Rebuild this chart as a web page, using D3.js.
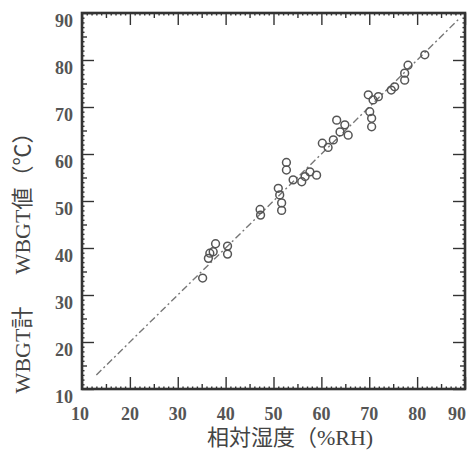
<!DOCTYPE html>
<html>
<head>
<meta charset="utf-8">
<script src="https://cdn.jsdelivr.net/npm/d3@7"></script>
<style>
  body { margin: 0; background: #fff; }
  svg { display: block; }
</style>
</head>
<body>
<svg width="475" height="461"></svg>
<script>
// relative humidity (x) / WBGT reading (y)
const xVals = [35.2, 37.9, 40.4, 40.4, 36.7, 37.4, 36.4, 47.2, 47.3,
    52.7, 52.7, 51.0, 51.3, 51.7, 51.7, 54.1, 55.9, 57.6, 59.0, 56.6,
    60.2, 61.4, 62.5, 63.2, 64.9, 63.9, 65.6, 69.8, 71.9, 70.8, 70.1, 70.5, 70.5,
    75.3, 74.6, 77.4, 78.1, 77.4, 81.6];
const yVals = [33.6, 40.9, 40.4, 38.7, 38.9, 39.2, 37.8, 48.2, 47.0,
    58.2, 56.6, 52.7, 51.3, 49.6, 48.0, 54.5, 54.1, 56.2, 55.5, 55.2,
    62.3, 61.4, 63.0, 67.2, 66.2, 64.7, 64.0, 72.6, 72.2, 71.5, 69.0, 67.6, 65.8,
    74.3, 73.6, 75.7, 78.9, 77.2, 81.1];
const tickVals = [10, 20, 30, 40, 50, 60, 70, 80, 90];
const minorVals = [15, 25, 35, 45, 55, 65, 75, 85];
const xTitle = "相対湿度（%RH)";
const yTitleA = "WBGT計";
const yTitleB = "WBGT値（℃）";

const svg = d3.select("svg");
const plotL = 82, plotR = 465, plotT = 13, plotB = 389;

const xScale = d3.scaleLinear().domain([10, 90]).range([plotL, plotR]);
const yScale = d3.scaleLinear().domain([10, 90]).range([plotB, plotT]);

const tiny = d3.range(10, 91, 1).filter(v => v % 5 != 0);
const axisColor = "#333";

function styleAxis(g) {
    g.select(".domain").remove();
    g.selectAll("line").attr("stroke", axisColor).attr("stroke-width", 1.4);
}

// ticks on all four sides, pointing inward
const sides = [
    {gen: d3.axisBottom(xScale), t: "translate(0," + plotB + ")"},
    {gen: d3.axisTop(xScale), t: "translate(0," + plotT + ")"},
    {gen: d3.axisLeft(yScale), t: "translate(" + plotL + ",0)"},
    {gen: d3.axisRight(yScale), t: "translate(" + plotR + ",0)"}
];
sides.forEach(function(side) {
    [[tickVals, -12], [minorVals, -5], [tiny, -2.5]].forEach(function(set) {
        const ax = side.gen.tickValues(set[0]).tickSize(set[1]).tickFormat("");
        svg.append("g").attr("transform", side.t).call(ax).call(styleAxis);
    });
});

// frame
svg.append("rect")
    .attr("x", plotL).attr("y", plotT)
    .attr("width", plotR - plotL).attr("height", plotB - plotT)
    .attr("fill", "none")
    .attr("stroke", axisColor)
    .attr("stroke-width", 2.6);

// tick labels
const labelFont = "'Liberation Serif', 'DejaVu Serif', serif";
svg.append("g").selectAll("text")
    .data(tickVals)
    .enter().append("text")
    .attr("x", plotL - 9)
    .attr("y", d => yScale(d) + 8)
    .attr("dy", "0.35em")
    .attr("text-anchor", "end")
    .style("font-family", labelFont)
    .style("font-size", "18px")
    .style("font-weight", "bold")
    .style("fill", "#555")
    .text(d => d);

svg.append("g").selectAll("text")
    .data(tickVals)
    .enter().append("text")
    .attr("x", d => xScale(d) + (d == 10 ? -2 : d == 90 ? -8 : 0))
    .attr("y", 414)
    .attr("dy", "0.35em")
    .attr("text-anchor", "middle")
    .style("font-family", labelFont)
    .style("font-size", "18px")
    .style("font-weight", "bold")
    .style("fill", "#555")
    .text(d => d);

// 1:1 line
const line = d3.line()
    .x(d => xScale(d))
    .y(d => yScale(d));
svg.append("path")
    .datum([13, 89])
    .attr("d", line)
    .attr("fill", "none")
    .attr("stroke", "#777")
    .attr("stroke-width", 1.4)
    .attr("stroke-dasharray", "7,3,2,3");

// measurements
svg.append("g").selectAll("circle")
    .data(xVals)
    .enter().append("circle")
    .attr("cx", d => xScale(d))
    .attr("cy", (d, i) => yScale(yVals[i]))
    .attr("r", 3.9)
    .attr("fill", "none")
    .attr("stroke", "#555")
    .attr("stroke-width", 1.5);

// axis titles
const titleFont = "'Liberation Serif', 'Noto Sans CJK JP', serif";
svg.append("text")
    .attr("x", 290)
    .attr("y", 437)
    .attr("dy", "0.35em")
    .attr("text-anchor", "middle")
    .style("font-family", titleFont)
    .style("font-size", "22px")
    .style("fill", "#444")
    .text(xTitle);

svg.append("text")
    .attr("transform", "translate(22,350)rotate(-90)")
    .attr("dy", "0.35em")
    .attr("text-anchor", "middle")
    .style("font-family", titleFont)
    .style("font-size", "22px")
    .style("fill", "#444")
    .text(yTitleA);

svg.append("text")
    .attr("transform", "translate(22,198)rotate(-90)")
    .attr("dy", "0.35em")
    .attr("text-anchor", "middle")
    .style("font-family", titleFont)
    .style("font-size", "22px")
    .style("fill", "#444")
    .text(yTitleB);
</script>
</body>
</html>
